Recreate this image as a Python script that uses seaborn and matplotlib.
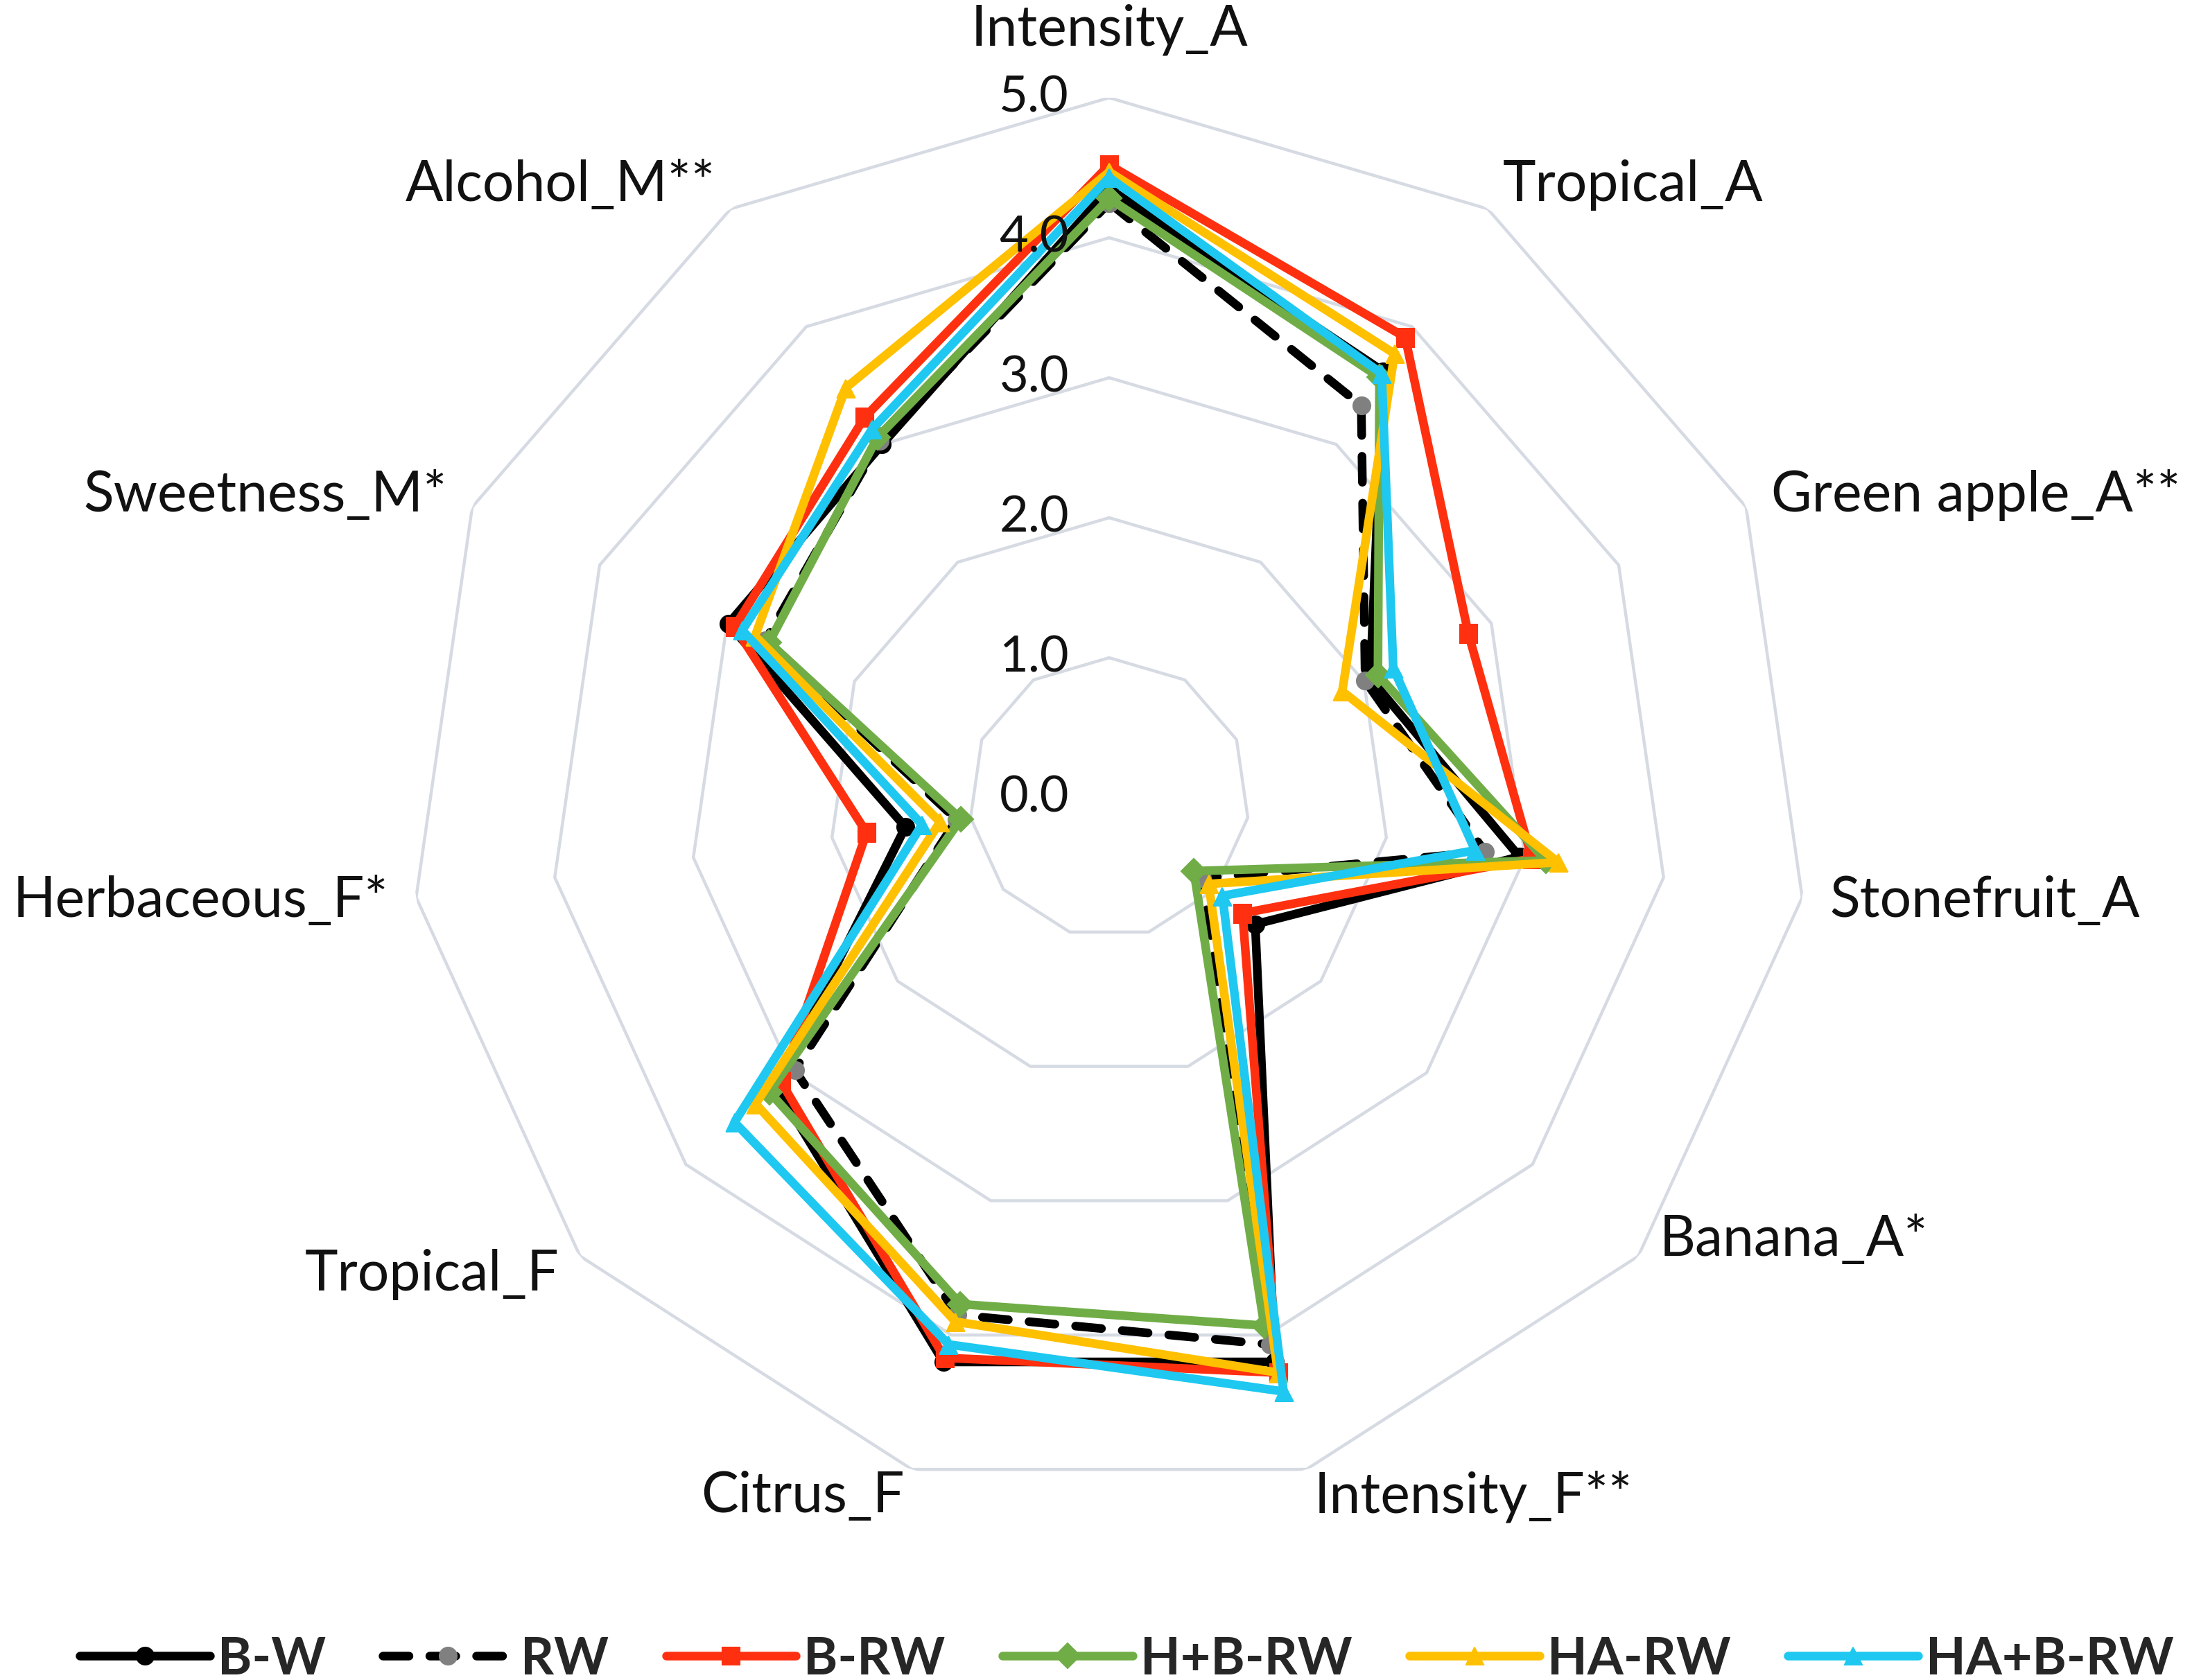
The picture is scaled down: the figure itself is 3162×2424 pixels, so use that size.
import numpy as np
import pandas as pd
import matplotlib
matplotlib.use("Agg")
import matplotlib.pyplot as plt
import matplotlib.transforms as mtransforms
import seaborn as sns

categories = ["Intensity_A", "Tropical_A", "Green apple_A**", "Stonefruit_A", "Banana_A*",
              "Intensity_F**", "Citrus_F", "Tropical_F", "Herbaceous_F*", "Sweetness_M*",
              "Alcohol_M**"]
bw      = [4.35, 3.62, 2.05, 2.96, 1.38, 4.20, 4.20, 3.15, 1.47, 2.99, 3.00]
rw      = [4.25, 3.33, 2.01, 2.71, 0.88, 4.07, 3.85, 2.97, 1.10, 2.70, 3.03]
b_rw    = [4.52, 3.91, 2.82, 3.05, 1.26, 4.28, 4.17, 3.10, 1.75, 2.94, 3.23]
hb_rw   = [4.28, 3.57, 2.11, 3.15, 0.80, 3.93, 3.77, 3.21, 1.07, 2.67, 3.06]
ha_rw   = [4.47, 3.77, 1.83, 3.24, 0.94, 4.28, 3.90, 3.34, 1.22, 2.78, 3.48]
hab_rw  = [4.43, 3.60, 2.23, 2.64, 1.07, 4.42, 4.07, 3.54, 1.35, 2.88, 3.13]
series_names = ["B-W", "RW", "B-RW", "H+B-RW", "HA-RW", "HA+B-RW"]
radial_ticks = [0.0, 1.0, 2.0, 3.0, 4.0, 5.0]
radial_labels = ["0.0", "1.0", "2.0", "3.0", "4.0", "5.0"]

series_values = [bw, rw, b_rw, hb_rw, ha_rw, hab_rw]
styles = [
    dict(color="#000000", mfc="#000000", marker="o", dashes=None),
    dict(color="#000000", mfc="#808080", marker="o", dashes=(3.0, 2.4)),
    dict(color="#FF3010", mfc="#FF3010", marker="s", dashes=None),
    dict(color="#70AD47", mfc="#70AD47", marker="D", dashes=None),
    dict(color="#FFC000", mfc="#FFC000", marker="^", dashes=None),
    dict(color="#1EC8F0", mfc="#1EC8F0", marker="^", dashes=None),
]

sns.set_theme(style="white")
plt.rcParams["font.family"] = ["Lato", "DejaVu Sans"]

W, H, DPI = 3162, 2424, 200
fig = plt.figure(figsize=(W / DPI, H / DPI), dpi=DPI)
cx, cy, R = 1600, 1151, 1010
ax = fig.add_axes([(cx - R) / W, (H - cy - R) / H, 2 * R / W, 2 * R / H], projection="polar")
ax.set_theta_offset(np.pi / 2)
ax.set_theta_direction(-1)

n = len(categories)
theta = np.linspace(0, 2 * np.pi, n, endpoint=False)
theta_closed = np.append(theta, theta[0])

# polygon grid
for lvl in radial_ticks[1:]:
    ax.plot(theta_closed, [lvl] * (n + 1), color="#D6DAE3", lw=1.6, zorder=0)

for name, vals, st in zip(series_names, series_values, styles):
    df = pd.DataFrame({"theta": theta_closed, "value": list(vals) + [vals[0]]})
    sns.lineplot(data=df, x="theta", y="value", ax=ax, sort=False, estimator=None,
                 color=st["color"], lw=4.5, marker=st["marker"], markersize=9,
                 markerfacecolor=st["mfc"], markeredgecolor=st["mfc"], label=name,
                 solid_capstyle="round", zorder=3)
    line = ax.lines[-1]
    if st["dashes"] is not None:
        line.set_dashes(st["dashes"])
        line.set_dash_capstyle("round")

ax.set_ylim(0, 5)
ax.set_xticks([])
ax.set_yticks([])
ax.grid(False)
ax.spines["polar"].set_visible(False)
ax.set_xlabel("")
ax.set_ylabel("")
ax.patch.set_alpha(0)

# radial labels
off = mtransforms.offset_copy(ax.transData, fig=fig, x=-58, y=0, units="dots")
for t, lab in zip(radial_ticks, radial_labels):
    ax.text(0, t, lab, transform=off, ha="right", va="center", fontsize=26, color="#111111")

# category labels
nudge = {"Banana_A*": 50}
for th, lab in zip(theta, categories):
    s, c = np.cos(th), np.sin(th)  # s: vertical (up), c: horizontal (right)
    if abs(c) < 0.1:
        ax.text(th, 5.3, lab, ha="center", va="bottom", fontsize=29, color="#111111")
    else:
        tr = mtransforms.offset_copy(ax.transData, fig=fig, x=0, y=nudge.get(lab, 0), units="dots")
        ax.text(th, 5.2, lab, transform=tr, ha="left" if c > 0 else "right", va="center",
                fontsize=29, color="#111111")

handles, labels = ax.get_legend_handles_labels()
leg = ax.get_legend()
if leg is not None:
    leg.remove()
fig.legend(handles, labels, loc="center", bbox_to_anchor=(0.514, 1 - 2394 / H), ncol=6,
           frameon=False, handlelength=2.5, handletextpad=0.15, columnspacing=1.1,
           numpoints=1, prop={"weight": "bold", "size": 27})

fig.savefig("out.png", dpi=DPI, facecolor="white")
